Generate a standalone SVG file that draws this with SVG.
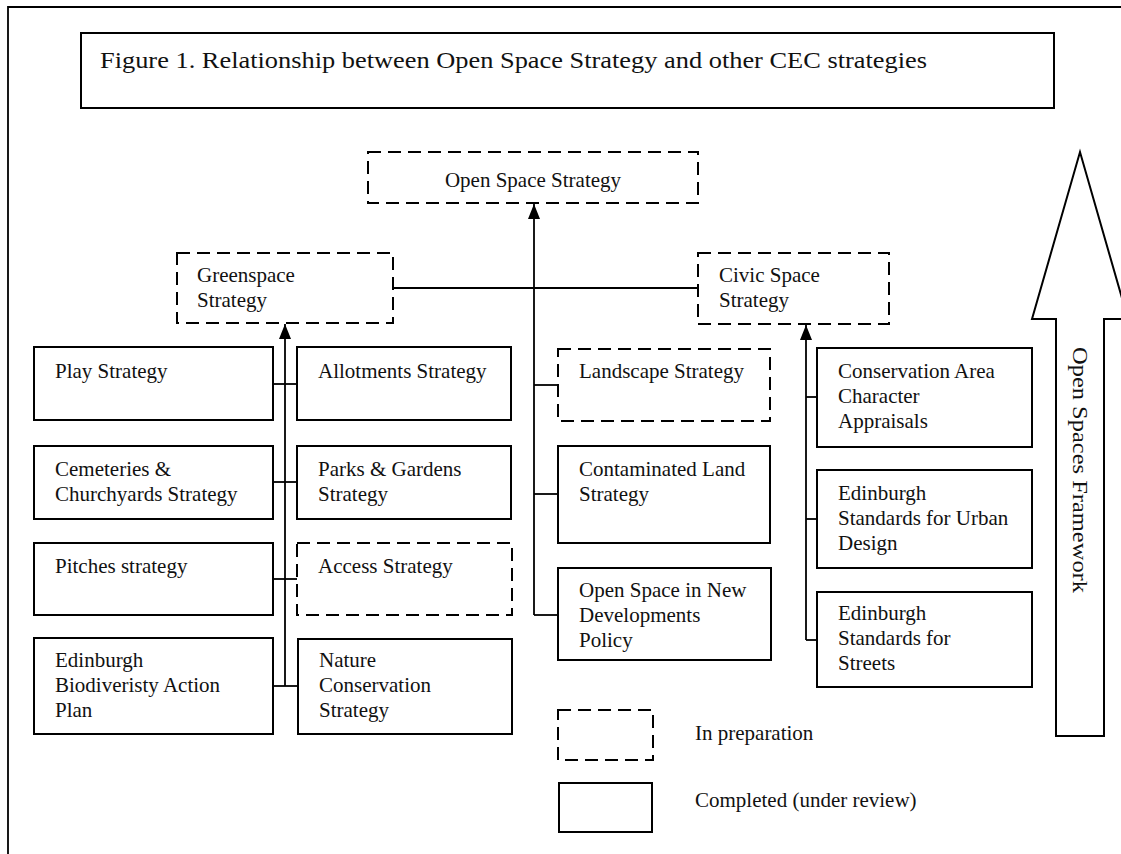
<svg xmlns="http://www.w3.org/2000/svg" width="1121" height="854" viewBox="0 0 1121 854">
<defs>
<style>
.box{fill:#fff;stroke:#000;stroke-width:2}
.dash{fill:#fff;stroke:#000;stroke-width:2;stroke-dasharray:13 7}
.ln{fill:none;stroke:#000;stroke-width:1.8}
.t{font-family:"Liberation Serif","Times New Roman",serif;font-size:21px;fill:#111}
.title{font-family:"Liberation Serif","Times New Roman",serif;font-size:23px;fill:#111}
</style>
<marker id="ah" markerWidth="16" markerHeight="12" refX="15" refY="6" orient="auto" markerUnits="userSpaceOnUse" viewBox="0 0 16 12">
<path d="M0,0 L15,6 L0,12 Z" fill="#000"/>
</marker>
</defs>
<rect x="0" y="0" width="1121" height="854" fill="#fff"/>
<g id="frame">
<path class="ln" d="M8,854 V7 H1121"/>
</g>
<g id="title">
<rect class="box" x="81" y="33" width="973" height="75"/>
<text class="title" x="100" y="68" textLength="827" lengthAdjust="spacingAndGlyphs">Figure 1. Relationship between Open Space Strategy and other CEC strategies</text>
</g>
<g id="connectors">
<line class="ln" x1="534" y1="615" x2="534" y2="204" marker-end="url(#ah)"/>
<line class="ln" x1="393" y1="288" x2="698" y2="288"/>
<line class="ln" x1="285" y1="686" x2="285" y2="324" marker-end="url(#ah)"/>
<line class="ln" x1="806" y1="640" x2="806" y2="325" marker-end="url(#ah)"/>
<line class="ln" x1="273" y1="384" x2="297" y2="384"/>
<line class="ln" x1="273" y1="482" x2="297" y2="482"/>
<line class="ln" x1="273" y1="579" x2="297" y2="579"/>
<line class="ln" x1="273" y1="686" x2="298" y2="686"/>
<line class="ln" x1="534" y1="385" x2="558" y2="385"/>
<line class="ln" x1="534" y1="494" x2="558" y2="494"/>
<line class="ln" x1="534" y1="615" x2="558" y2="615"/>
<line class="ln" x1="806" y1="397" x2="817" y2="397"/>
<line class="ln" x1="806" y1="519" x2="817" y2="519"/>
<line class="ln" x1="806" y1="640" x2="817" y2="640"/>
</g>
<g id="open-space-strategy">
<rect class="dash" x="368" y="152" width="330" height="51"/>
<text class="t" x="533" y="187" text-anchor="middle">Open Space Strategy</text>
</g>
<g id="greenspace">
<rect class="dash" x="177" y="253" width="216" height="70"/>
<text class="t" x="197" y="282">Greenspace</text>
<text class="t" x="197" y="307">Strategy</text>
</g>
<g id="civic">
<rect class="dash" x="698" y="253" width="191" height="71"/>
<text class="t" x="719" y="282">Civic Space</text>
<text class="t" x="719" y="307">Strategy</text>
</g>
<g id="play">
<rect class="box" x="34" y="347" width="239" height="73"/>
<text class="t" x="55" y="378">Play Strategy</text>
</g>
<g id="cemeteries">
<rect class="box" x="34" y="446" width="239" height="73"/>
<text class="t" x="55" y="476">Cemeteries &amp;</text>
<text class="t" x="55" y="501">Churchyards Strategy</text>
</g>
<g id="pitches">
<rect class="box" x="34" y="543" width="239" height="72"/>
<text class="t" x="55" y="573">Pitches strategy</text>
</g>
<g id="biodiversity">
<rect class="box" x="34" y="638" width="239" height="96"/>
<text class="t" x="55" y="667">Edinburgh</text>
<text class="t" x="55" y="692">Biodiveristy Action</text>
<text class="t" x="55" y="717">Plan</text>
</g>
<g id="allotments">
<rect class="box" x="297" y="347" width="214" height="73"/>
<text class="t" x="318" y="378">Allotments Strategy</text>
</g>
<g id="parks">
<rect class="box" x="297" y="446" width="214" height="73"/>
<text class="t" x="318" y="476">Parks &amp; Gardens</text>
<text class="t" x="318" y="501">Strategy</text>
</g>
<g id="access">
<rect class="dash" x="297" y="543" width="215" height="72"/>
<text class="t" x="318" y="573">Access Strategy</text>
</g>
<g id="nature">
<rect class="box" x="298" y="639" width="214" height="95"/>
<text class="t" x="319" y="667">Nature</text>
<text class="t" x="319" y="692">Conservation</text>
<text class="t" x="319" y="717">Strategy</text>
</g>
<g id="landscape">
<rect class="dash" x="558" y="349" width="212" height="72"/>
<text class="t" x="579" y="378">Landscape Strategy</text>
</g>
<g id="contaminated">
<rect class="box" x="558" y="446" width="212" height="97"/>
<text class="t" x="579" y="476">Contaminated Land</text>
<text class="t" x="579" y="501">Strategy</text>
</g>
<g id="osnd">
<rect class="box" x="558" y="568" width="213" height="92"/>
<text class="t" x="579" y="597">Open Space in New</text>
<text class="t" x="579" y="622">Developments</text>
<text class="t" x="579" y="647">Policy</text>
</g>
<g id="conservation">
<rect class="box" x="817" y="348" width="215" height="99"/>
<text class="t" x="838" y="378">Conservation Area</text>
<text class="t" x="838" y="403">Character</text>
<text class="t" x="838" y="428">Appraisals</text>
</g>
<g id="urban-design">
<rect class="box" x="817" y="470" width="215" height="98"/>
<text class="t" x="838" y="500">Edinburgh</text>
<text class="t" x="838" y="525">Standards for Urban</text>
<text class="t" x="838" y="550">Design</text>
</g>
<g id="streets">
<rect class="box" x="817" y="592" width="215" height="95"/>
<text class="t" x="838" y="620">Edinburgh</text>
<text class="t" x="838" y="645">Standards for</text>
<text class="t" x="838" y="670">Streets</text>
</g>
<g id="framework-arrow">
<path class="box" d="M1056,736 V319 H1032 L1080,152 L1128,319 H1104 V736 Z"/>
<text class="t" transform="translate(1073,470) rotate(90)" text-anchor="middle" textLength="246" lengthAdjust="spacingAndGlyphs">Open Spaces Framework</text>
</g>
<g id="legend">
<rect class="dash" x="558" y="710" width="95" height="50"/>
<text class="t" x="695" y="740">In preparation</text>
<rect class="box" x="559" y="783" width="93" height="49"/>
<text class="t" x="695" y="807">Completed (under review)</text>
</g>
</svg>
